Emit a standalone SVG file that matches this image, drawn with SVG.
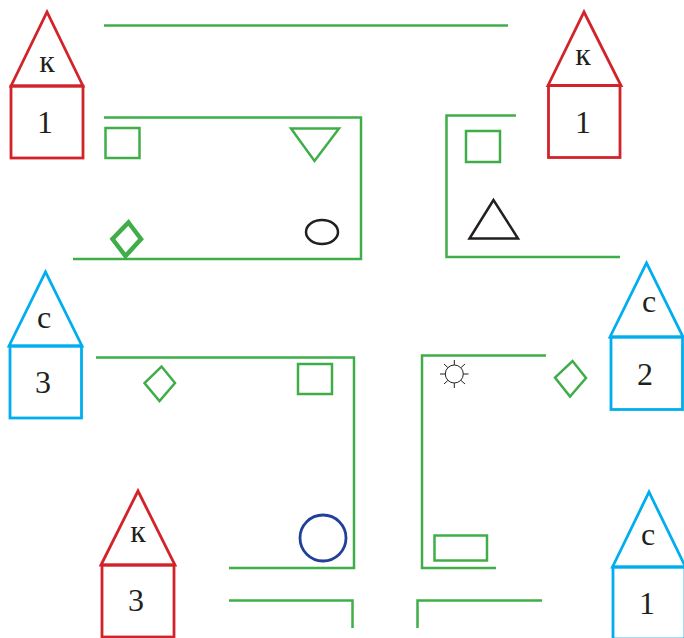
<svg xmlns="http://www.w3.org/2000/svg" width="684" height="638" viewBox="0 0 684 638">
<style>
.g{fill:none;stroke:#3fae49;stroke-width:2.5}
.t{fill:none;stroke:#3fae49;stroke-width:2.5}
.r{fill:none;stroke:#d2232a;stroke-width:2.8}
.b{fill:none;stroke:#00aeef;stroke-width:2.8}
.k{fill:none;stroke:#231f20;stroke-width:2.5}
.n{font-family:"Liberation Serif",serif;font-size:32px;fill:#231f20;text-anchor:middle}
.l{font-family:"Liberation Serif",serif;font-size:32px;fill:#231f20;text-anchor:middle}
</style>
<rect width="684" height="638" fill="#fff"/>
<g id="connectors">
<path class="g" d="M104 25.5H508"/>
<path class="g" d="M104 117.5H361V259H73"/>
<path class="g" d="M516 115.5H446.5V257H620"/>
<path class="g" d="M96 357.5H354V568H229"/>
<path class="g" d="M546 355.5H422V568H496"/>
<path class="g" d="M229 600.5H352.5V628"/>
<path class="g" d="M542 600.5H417.5V628"/>
</g>
<g id="house-k1-left"><path class="r" d="M11 86L47 12L83 86Z"/><rect class="r" x="11" y="86" width="72" height="72"/><text class="l" x="47" y="72">к</text><text class="n" x="45" y="133">1</text></g>
<g id="house-k1-right"><path class="r" d="M548 85.500L584 12L621 85.500Z"/><rect class="r" x="548.500" y="85.500" width="71.500" height="72"/><text class="l" x="583" y="65">к</text><text class="n" x="583" y="133">1</text></g>
<g id="house-c3"><path class="b" d="M9 346L45.500 272L82 346Z"/><rect class="b" x="10" y="346" width="71.500" height="72"/><text class="l" x="44" y="328">с</text><text class="n" x="43" y="393">3</text></g>
<g id="house-k3"><path class="r" d="M101 565L138 491L175 565Z"/><rect class="r" x="102" y="565" width="72" height="72"/><text class="l" x="138" y="542">к</text><text class="n" x="136" y="611">3</text></g>
<g id="house-c2"><path class="b" d="M610 337L646.500 263L683 337Z"/><rect class="b" x="611" y="337" width="71.500" height="72.500"/><text class="l" x="649" y="312">с</text><text class="n" x="645" y="385">2</text></g>
<g id="house-c1"><path class="b" d="M612.500 567L649 492L685.500 567Z"/><rect class="b" x="613" y="567" width="72" height="72"/><text class="l" x="648" y="545">с</text><text class="n" x="647" y="614">1</text></g>
<g id="shape-square-1"><rect class="t" x="105.500" y="128" width="34" height="30"/></g>
<g id="shape-triangle-down"><path class="t" d="M291 128.500H339L314.500 161Z"/></g>
<g id="shape-diamond-thick"><path fill="none" stroke="#3fae49" stroke-width="4.500" d="M128.500 222.500L141 239L125.500 256L112.500 239Z"/></g>
<g id="shape-ellipse"><ellipse class="k" cx="322" cy="232" rx="16" ry="12"/></g>
<g id="shape-square-2"><rect class="t" x="466" y="131" width="34" height="31"/></g>
<g id="shape-triangle-up"><path class="k" d="M493.500 200L469.500 238.500H518Z"/></g>
<g id="shape-diamond-2"><path class="t" d="M161.500 366.500L175 383L159.500 401L144.500 383Z"/></g>
<g id="shape-square-3"><rect class="t" x="298" y="364" width="34" height="30"/></g>
<g id="shape-circle"><circle fill="none" stroke="#21409a" stroke-width="2.800" cx="323" cy="538" r="23"/></g>
<g id="shape-sun"><circle fill="none" stroke="#231f20" stroke-width="1" cx="454.300" cy="374" r="9"/><path fill="none" stroke="#231f20" stroke-width="1" d="M454.300 360V365M454.300 383V388M440 374H445M463.500 374H468.500M444 364L447.800 367.500M461 380.500L465 384M444 384L447.800 380.500M461 367.500L465 364"/></g>
<g id="shape-rect"><rect class="t" x="434.500" y="535.500" width="52.500" height="25"/></g>
<g id="shape-diamond-3"><path class="t" d="M572.500 361L586 378L570 396.500L555 377.500Z"/></g>
</svg>
